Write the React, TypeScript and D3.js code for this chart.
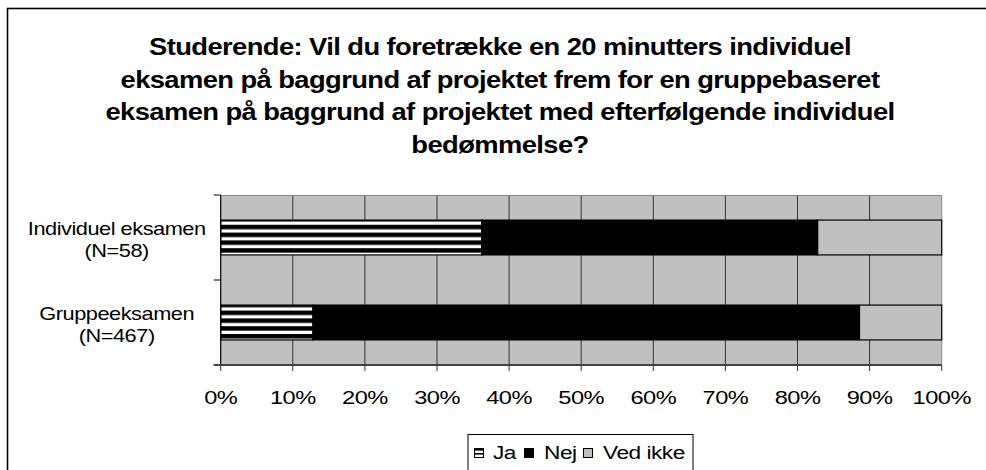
import React from 'react';
import * as d3 from 'd3';

// chart data
const categories = ['Individuel eksamen|(N=58)', 'Gruppeeksamen|(N=467)'];
const seriesNames = ['Ja', 'Nej', 'Ved ikke'];
const jaValues = [36.2, 12.8];
const nejValues = [46.6, 75.8];
const vedIkkeValues = [17.2, 11.4];
const xTicks = [0, 10, 20, 30, 40, 50, 60, 70, 80, 90, 100];
const titleLines = [
  'Studerende: Vil du foretrække en 20 minutters individuel',
  'eksamen på baggrund af projektet frem for en gruppebaseret',
  'eksamen på baggrund af projektet med efterfølgende individuel',
  'bedømmelse?',
];

const font = '"Liberation Sans", Arial, sans-serif';

// text stretched horizontally like the old Excel rendering
const T = ({ x, y, sx = 1.17, anchor = 'start', size = 18.6, bold = false, spacing = -0.4, children }: any) => (
  <g transform={`translate(${x},${y}) scale(${sx},1)`}>
    <text
      x={0}
      y={0}
      textAnchor={anchor}
      fontSize={size}
      fontWeight={bold ? 'bold' : 'normal'}
      letterSpacing={spacing}
    >
      {children}
    </text>
  </g>
);

const App = () => {
  const width = 986;
  const height = 470;
  const margin = { top: 195, left: 220.7, right: 44.3, bottom: 105 };
  const plotW = width - margin.left - margin.right;
  const plotH = height - margin.top - margin.bottom;

  const x = d3.scaleLinear().domain([0, 100]).range([0, plotW]);
  const y = d3
    .scaleBand()
    .domain(categories)
    .range([0, plotH])
    .paddingInner(0.59)
    .paddingOuter(0.295);

  const rows = categories.map((c, i) => ({
    cat: c,
    Ja: jaValues[i],
    Nej: nejValues[i],
    'Ved ikke': vedIkkeValues[i],
  }));
  const stacked = d3.stack<any>().keys(seriesNames)(rows);
  const fills: Record<string, string> = {
    Ja: 'url(#stripes)',
    Nej: '#000000',
    'Ved ikke': '#c0c0c0',
  };

  const legendItems = [
    { name: 'Ja', x: 474, tx: 493 },
    { name: 'Nej', x: 524, tx: 544 },
    { name: 'Ved ikke', x: 583, tx: 603 },
  ];

  return (
    <svg
      width={width}
      height={height}
      style={{ position: 'absolute', left: 0, top: 0, background: '#fff' }}
      fontFamily={font}
    >
      <defs>
        <pattern id="stripes" patternUnits="userSpaceOnUse" width={8} height={7.8} y={0.5}>
          <rect width={8} height={7.8} fill="#000" />
          <rect y={2.6} width={8} height={3.3} fill="#fff" />
        </pattern>
        <pattern id="stripesSmall" patternUnits="userSpaceOnUse" width={4} height={4} x={0} y={1}>
          <rect width={4} height={4} fill="#fff" />
          <rect y={0} width={4} height={1.6} fill="#000" />
        </pattern>
      </defs>

      {/* outer frame */}
      <rect x={7.5} y={8.5} width={990} height={480} fill="#fff" stroke="#000" strokeWidth={1.6} />

      {/* title */}
      {titleLines.map((t, i) => (
        <T key={i} x={500} y={55 + i * 32.7} anchor="middle" size={23} bold sx={1.19} spacing={-0.5}>
          {t}
        </T>
      ))}

      <g transform={`translate(${margin.left},${margin.top})`}>
        <rect width={plotW} height={plotH} fill="#c0c0c0" />
        {xTicks.slice(1, -1).map((t) => (
          <line key={t} x1={x(t)} x2={x(t)} y1={0} y2={plotH} stroke="#333" strokeWidth={1} />
        ))}
        <line x1={0} x2={plotW} y1={0.5} y2={0.5} stroke="#888" strokeWidth={1} />
        <line x1={plotW} x2={plotW} y1={0} y2={plotH} stroke="#888" strokeWidth={1} />

        {stacked.map((s) => (
          <g key={s.key}>
            {s.map((d, i) => (
              <rect
                key={i}
                x={x(d[0])}
                y={y(categories[i])}
                width={x(d[1]) - x(d[0])}
                height={y.bandwidth()}
                fill={fills[s.key]}
                stroke="#000"
                strokeWidth={1.2}
              />
            ))}
          </g>
        ))}

        {/* y axis */}
        <line x1={0} x2={0} y1={0} y2={plotH} stroke="#000" strokeWidth={1.2} />
        {[0, 1, 2].map((k) => (
          <line key={k} x1={-7} x2={0} y1={(plotH / 2) * k} y2={(plotH / 2) * k} stroke="#000" strokeWidth={1} />
        ))}
        {categories.map((c) => {
          const [l1, l2] = c.split('|');
          const cy = (y(c) as number) + y.bandwidth() / 2;
          return (
            <g key={c}>
              <T x={-104} y={cy - 3} anchor="middle">{l1}</T>
              <T x={-104} y={cy + 19.5} anchor="middle">{l2}</T>
            </g>
          );
        })}

        {/* x axis */}
        <line x1={-7} x2={plotW} y1={plotH} y2={plotH} stroke="#444" strokeWidth={2} />
        {xTicks.map((t) => (
          <g key={t} transform={`translate(${x(t)},${plotH})`}>
            <line y1={0} y2={6} stroke="#333" strokeWidth={1} />
            <T x={0} y={38.7} anchor="middle" sx={1.27}>
              {t}%
            </T>
          </g>
        ))}
      </g>

      {/* legend */}
      <rect x={468} y={434.5} width={225} height={40} fill="#fff" stroke="#000" strokeWidth={1} />
      {legendItems.map((it) => (
        <g key={it.name}>
          <rect
            x={it.x + 0.5}
            y={448.5}
            width={9}
            height={9}
            fill={it.name === 'Ja' ? 'url(#stripesSmall)' : fills[it.name]}
            stroke="#000"
            strokeWidth={1}
          />
          <T x={it.tx} y={458.5} sx={1.22}>
            {it.name}
          </T>
        </g>
      ))}
    </svg>
  );
};

export default App;
